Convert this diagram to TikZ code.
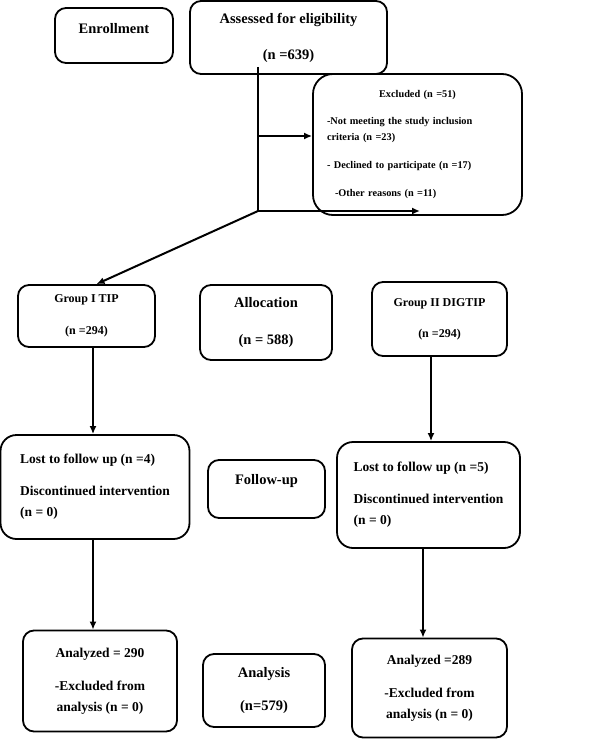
\documentclass[tikz,border=0pt]{standalone}
\usepackage{fontspec}
\setmainfont{Liberation Serif}
\usetikzlibrary{arrows.meta,calc,positioning}

\begin{document}
\begin{tikzpicture}[x=1pt,y=-1pt,
  box/.style={draw,rounded corners=11pt,line width=1.8pt,inner sep=0pt,font=\bfseries},
  arr/.style={line width=2pt,-{Latex[length=8pt,width=7pt]}},
  big/.style={font=\fontsize{14.5}{17}\selectfont\bfseries},
  mid/.style={font=\fontsize{13.5}{21}\selectfont\bfseries},
  small/.style={font=\fontsize{12}{14}\selectfont\bfseries}]
\useasboundingbox (0,0) rectangle (596,741);

% enrollment
\node[box,big,minimum width=118,minimum height=55,text depth=15pt] (enroll) at (114,35.5) {Enrollment};
\node[box,big,minimum width=197,minimum height=73,align=center] (assess) at (288.5,37.5)
  {Assessed for eligibility\\[19pt](n =639)};
\node[box,rounded corners=20pt,minimum width=209,minimum height=141,text width=181,align=left,
  font=\fontsize{10.3}{16}\selectfont\bfseries] (excl) at (417.5,144.5)
  {\makebox[181pt][c]{Excluded (n =51)}\\[11pt]
   -Not meeting the study inclusion\\
   criteria (n =23)\\[12pt]
   - Declined to participate (n =17)\\[12pt]
   \hspace*{8pt}-Other reasons (n =11)};

% allocation
\node[box,small,minimum width=137,minimum height=62,align=center] (grpA) at (86.5,316)
  {Group I TIP\\[18pt](n =294)};
\node[box,big,minimum width=132,minimum height=75,align=center] (alloc) at (266,322.5)
  {Allocation\\[20pt](n = 588)};
\node[box,small,minimum width=135,minimum height=74,align=center] (grpB) at (439.5,319)
  {Group II DIGTIP\\[17pt](n =294)};

% follow-up
\node[box,rounded corners=16pt,mid,minimum width=189,minimum height=104,align=left] (lostA) at (95,487)
  {Lost to follow up (n =4)\\[11pt]Discontinued intervention\\(n = 0)};
\node[box,big,minimum width=117,minimum height=58,text depth=19pt] (follow) at (266.5,489) {Follow-up};
\node[box,rounded corners=16pt,mid,minimum width=183,minimum height=106,align=left] (lostB) at (428.5,495)
  {Lost to follow up (n =5)\\[11pt]Discontinued intervention\\(n = 0)};

% analysis
\node[box,mid,minimum width=154,minimum height=101,align=center] (anaA) at (100,681)
  {Analyzed = 290\\[12pt]-Excluded from\\analysis (n = 0)};
\node[box,big,minimum width=122,minimum height=73,align=center] (analysis) at (264,690.5)
  {Analysis\\[16pt](n=579)};
\node[box,mid,minimum width=155,minimum height=99,align=center] (anaB) at (429.5,688)
  {Analyzed =289\\[12pt]-Excluded from\\analysis (n = 0)};

% connectors
\coordinate (top) at (258,67);
\coordinate (split) at (258,136);
\coordinate (corner) at (258,211);
\coordinate (cend) at (420,211);
\draw[line width=2pt] (top) -- (corner);
\draw[arr] (split) -- (split -| excl.west);
\draw[arr] (corner) -- (cend);
\draw[arr] (corner) -- ($(grpA.north)+(10,0)$);
\draw[arr] ([xshift=6.5pt]grpA.south) -- ([xshift=6.5pt]grpA.south |- lostA.north);
\draw[arr] ([xshift=-8.5pt]grpB.south) -- ([xshift=-8.5pt]grpB.south |- lostB.north);
\draw[arr] ([xshift=-2pt]lostA.south) -- ([xshift=-2pt]lostA.south |- anaA.north);
\draw[arr] ([xshift=-5.5pt]lostB.south) -- ([xshift=-5.5pt]lostB.south |- anaB.north);
\end{tikzpicture}
\end{document}
